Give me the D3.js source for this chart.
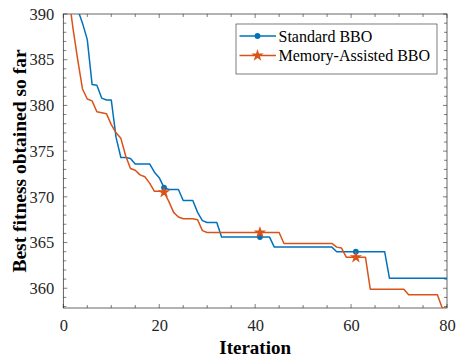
<!DOCTYPE html>
<html><head><meta charset="utf-8">
<script src="https://cdn.jsdelivr.net/npm/d3@7"></script>
<style>body{margin:0;background:#fff}svg{display:block}</style>
</head><body>
<svg id="c" width="457" height="360"></svg>
<script>
const iterations = d3.range(1, 81);
const standardBBO = [396,393,390.5,389.0,387.2,382.3,382.2,380.8,380.6,380.6,
 376.5,374.3,374.3,374.2,373.6,373.6,373.6,373.6,372.7,372.1,
 371.0,370.8,370.8,370.8,369.6,369.6,369.6,368.3,367.4,367.2,
 367.2,367.2,365.6,365.6,365.6,365.6,365.6,365.6,365.6,365.6,
 365.6,365.6,365.6,364.5,364.5,364.5,364.5,364.5,364.5,364.5,
 364.5,364.5,364.5,364.5,364.5,364.5,364.0,364.0,364.0,364.0,
 364.0,364.0,364.0,364.0,364.0,364.0,364.0,361.1,361.1,361.1,
 361.1,361.1,361.1,361.1,361.1,361.1,361.1,361.1,361.1,361.1];
const memoryBBO = [392.5,388.5,385.0,381.8,380.7,380.5,379.3,379.2,379.1,377.9,
 377.0,376.4,374.5,373.1,372.9,372.4,372.2,371.5,370.6,370.6,
 370.5,369.5,368.3,367.8,367.6,367.6,367.6,367.5,366.3,366.1,
 366.1,366.1,366.1,366.1,366.1,366.1,366.1,366.1,366.1,366.1,
 366.1,366.1,366.1,366.1,366.1,364.9,364.9,364.9,364.9,364.9,
 364.9,364.9,364.9,364.9,364.9,364.9,364.5,364.4,363.4,363.4,
 363.4,363.4,363.4,359.9,359.9,359.9,359.9,359.9,359.9,359.9,
 359.9,359.3,359.3,359.3,359.3,359.3,359.3,359.3,357.84,357.84];
const seriesNames = ["Standard BBO", "Memory-Assisted BBO"];
const seriesColors = ["#0072BD", "#D95319"];
const markerIdx = [1, 21, 41, 61];
const xTicks = [0, 20, 40, 60, 80];
const yTicks = [360, 365, 370, 375, 380, 385, 390];
const xLabel = "Iteration";
const yLabel = "Best fitness obtained so far";

const svg = d3.select("#c");
const L = 63.3, R = 447, T = 14, B = 308;
const x = d3.scaleLinear().domain([0, 80]).range([L, R]);
const y = d3.scaleLinear().domain([357.84, 390]).range([B, T]);
const axCol = "#262626";
const font = "'Liberation Serif','Times New Roman',serif";

svg.append("defs").append("clipPath").attr("id","clip")
  .append("rect").attr("x",L).attr("y",T).attr("width",R-L).attr("height",B-T);

// ticks
const xMinor = d3.range(0, 81, 5);
const yMinor = d3.range(358, 391, 1);
const tg = svg.append("g").attr("stroke", axCol).attr("stroke-width", 0.6);
xMinor.forEach(v => {
  const len = xTicks.includes(v) ? 4 : 3;
  tg.append("line").attr("x1",x(v)).attr("x2",x(v)).attr("y1",B).attr("y2",B-len);
  tg.append("line").attr("x1",x(v)).attr("x2",x(v)).attr("y1",T).attr("y2",T+len);
});
yMinor.forEach(v => {
  const len = yTicks.includes(v) ? 4 : 3;
  tg.append("line").attr("y1",y(v)).attr("y2",y(v)).attr("x1",L).attr("x2",L+len);
  tg.append("line").attr("y1",y(v)).attr("y2",y(v)).attr("x1",R).attr("x2",R-len);
});

// tick labels via axes (tick lines hidden)
const xAxis = svg.append("g").attr("transform",`translate(0,${B})`)
  .call(d3.axisBottom(x).tickValues(xTicks).tickSize(0).tickPadding(11));
const yAxis = svg.append("g").attr("transform",`translate(${L},0)`)
  .call(d3.axisLeft(y).tickValues(yTicks).tickSize(0).tickPadding(9));
[xAxis, yAxis].forEach(a => {
  a.attr("font-family", null).attr("font-size", null);
  a.select(".domain").remove();
  a.selectAll("text").style("font-family", font).style("font-size", "16.5px").attr("fill", axCol);
});

// box
svg.append("rect").attr("x",L).attr("y",T).attr("width",R-L).attr("height",B-T)
  .attr("fill","none").attr("stroke",axCol).attr("stroke-width",0.7);

// lines
const data = [standardBBO, memoryBBO];
const line = d3.line().x((d,i) => x(iterations[i])).y(d => y(d));
const pg = svg.append("g").attr("clip-path","url(#clip)");
data.forEach((vals, k) => {
  pg.append("path").datum(vals).attr("d", line).attr("fill","none")
    .attr("stroke", seriesColors[k]).attr("stroke-width", 1.5).attr("stroke-linejoin","round");
});
const circle = d3.symbol().type(d3.symbolCircle).size(26);
const star = d3.symbol().type(d3.symbolStar).size(48);
markerIdx.forEach(m => {
  const i = iterations.indexOf(m);
  pg.append("path").attr("d", circle).attr("fill", seriesColors[0])
    .attr("transform", `translate(${x(m)},${y(standardBBO[i])})`);
  pg.append("path").attr("d", star).attr("fill", seriesColors[1])
    .attr("transform", `translate(${x(m)},${y(memoryBBO[i])})`);
});

// axis labels
svg.append("text").attr("x", (L+R)/2).attr("y", 354).attr("text-anchor","middle")
  .style("font-family", font).style("font-weight","bold").style("font-size", "19px").attr("fill","#000")
  .text(xLabel);
svg.append("text").attr("transform", `translate(25.5,${(T+B)/2}) rotate(-90)`).attr("text-anchor","middle")
  .style("font-family", font).style("font-weight","bold").style("font-size", "19.5px").attr("fill","#000")
  .text(yLabel);

// legend
const lg = svg.append("g");
lg.append("rect").attr("x",236).attr("y",24).attr("width",201).attr("height",50)
  .attr("fill","#fff").attr("stroke",axCol).attr("stroke-width",0.6);
seriesNames.forEach((n, k) => {
  const cy = 36 + k*19.5;
  lg.append("line").attr("x1",239.5).attr("x2",276).attr("y1",cy).attr("y2",cy)
    .attr("stroke", seriesColors[k]).attr("stroke-width",1.5);
  lg.append("path").attr("d", k===0 ? circle : star).attr("fill", seriesColors[k])
    .attr("transform", `translate(257.5,${cy})`);
  lg.append("text").attr("x",278.5).attr("y",cy).attr("dy","0.35em")
    .style("font-family", font).style("font-size", "16px").attr("fill","#000").text(n);
});
</script>
</body></html>
